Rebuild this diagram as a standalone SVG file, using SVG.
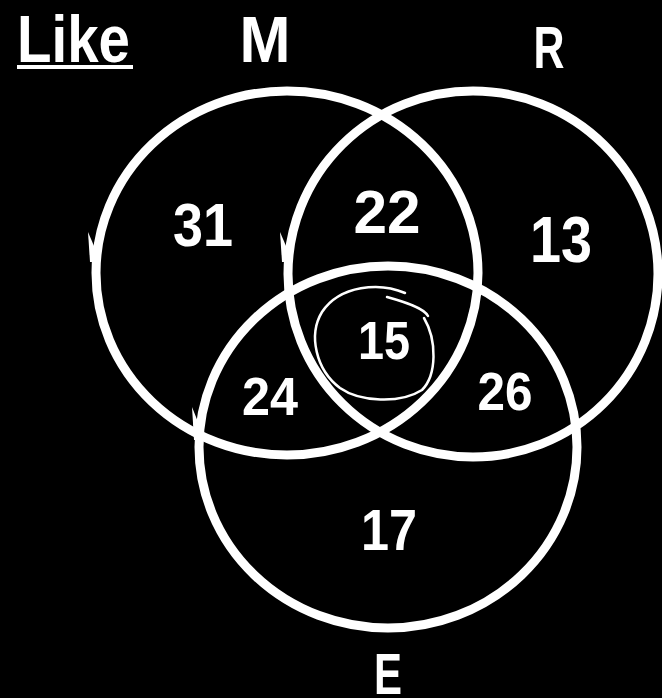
<svg xmlns="http://www.w3.org/2000/svg" width="662" height="698" viewBox="0 0 662 698">
<style>
.ring{fill:none;stroke:#fff;stroke-width:9}
.t{fill:#fff;font-family:"Liberation Sans",Arial,sans-serif;font-weight:bold;text-anchor:middle}
.hand{fill:none;stroke:#fff;stroke-width:2.5;stroke-linecap:round}
.spike{fill:#fff}
</style>
<rect x="0" y="0" width="662" height="698" fill="#000"/>
<g id="title">
<text class="t" x="17" y="62" font-size="66" style="text-anchor:start" textLength="113" lengthAdjust="spacingAndGlyphs">Like</text>
<rect x="17" y="65" width="116" height="4" fill="#fff"/>
</g>
<g id="set-M">
<ellipse class="ring" cx="287" cy="273" rx="191" ry="182"/>
<path class="spike" d="M88 232 L94 246 L94 262 L90 262 Z"/>
<text class="t" x="265" y="62" font-size="65" textLength="51" lengthAdjust="spacingAndGlyphs">M</text>
</g>
<g id="set-R">
<ellipse class="ring" cx="473" cy="274" rx="185" ry="183"/>
<path class="spike" d="M280 232 L286 246 L286 262 L282 262 Z"/>
<text class="t" x="549" y="68" font-size="60" textLength="31" lengthAdjust="spacingAndGlyphs">R</text>
</g>
<g id="set-E">
<ellipse class="ring" cx="388" cy="447" rx="189" ry="181"/>
<path class="spike" d="M192 407 L198 422 L198 440 L194 440 Z"/>
<text class="t" x="388" y="694" font-size="58" textLength="28" lengthAdjust="spacingAndGlyphs">E</text>
</g>
<g id="connectors"></g>
<g id="regions">
<text class="t" x="203" y="246" font-size="62" textLength="60" lengthAdjust="spacingAndGlyphs">31</text>
<text class="t" x="387" y="233" font-size="62" textLength="67" lengthAdjust="spacingAndGlyphs">22</text>
<text class="t" x="561" y="262" font-size="64" textLength="62" lengthAdjust="spacingAndGlyphs">13</text>
<text class="t" x="270" y="415" font-size="53" textLength="56" lengthAdjust="spacingAndGlyphs">24</text>
<text class="t" x="505" y="410" font-size="53" textLength="55" lengthAdjust="spacingAndGlyphs">26</text>
<text class="t" x="389" y="550" font-size="58" textLength="56" lengthAdjust="spacingAndGlyphs">17</text>
</g>
<g id="center">
<path class="hand" d="M405 293 C380 282 340 285 322 312 C308 335 316 370 340 388 C360 402 400 404 422 390 C437 375 437 340 424 318"/>
<path class="hand" d="M387 297 C405 302 424 308 428 316"/>
<text class="t" x="384" y="359" font-size="53" textLength="52" lengthAdjust="spacingAndGlyphs">15</text>
</g>
</svg>
